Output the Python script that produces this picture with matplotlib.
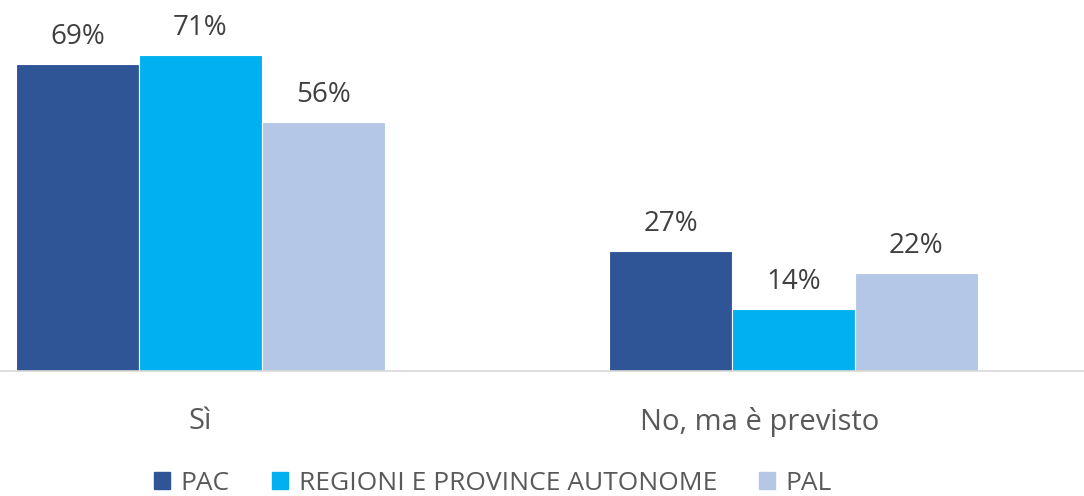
import matplotlib.pyplot as plt
import numpy as np
from matplotlib.patches import Patch
from matplotlib.transforms import ScaledTranslation

plt.rcParams['font.family'] = ['Open Sans', 'DejaVu Sans']

categories = ['Sì', 'No, ma è previsto']
series = ['PAC', 'REGIONI E PROVINCE AUTONOME', 'PAL']
pac = [69, 27]
regioni = [71, 14]
pal = [56, 22]
colors = ['#2F5597', '#00B0F0', '#B4C7E7']

fig = plt.figure(figsize=(10.84, 4.96), dpi=100)
ax = fig.add_axes([0, 125 / 496, 1, 371 / 496])

x = np.arange(len(categories))
w = 0.2074
for i, (vals, c) in enumerate(zip([pac, regioni, pal], colors)):
    pos = x + (i - 1) * w
    ax.bar(pos, vals, width=w, color=c, edgecolor='white', linewidth=0.8)
    for p, v in zip(pos, vals):
        ax.text(p, v + 4.5, f'{v}%', ha='center', va='baseline',
                fontsize=20, color='#404040')

ax.set_xlim(-0.338, 1.49)
ax.set_ylim(0, 83.4)
ax.set_yticks([])
ax.set_xticks(x)
ax.set_xticklabels(categories, fontsize=21, color='#595959')
ax.tick_params(axis='x', length=0, pad=26)
# second label sits a little left of its group in the original
lab = ax.get_xticklabels()[1]
lab.set_transform(lab.get_transform() + ScaledTranslation(-0.34, 0, fig.dpi_scale_trans))
for s in ['top', 'right', 'left']:
    ax.spines[s].set_visible(False)
ax.spines['bottom'].set_color('#D9D9D9')
ax.spines['bottom'].set_linewidth(1.2)

handles = [Patch(color=c) for c in colors]
fig.legend(handles, series, loc='center', bbox_to_anchor=(0.455, 1 - 483 / 496),
           ncol=3, frameon=False, fontsize=19, labelcolor='#595959',
           handlelength=0.6, handleheight=0.6, handletextpad=0.4,
           columnspacing=1.6, borderpad=0.1)

fig.savefig('out.png', dpi=100)
